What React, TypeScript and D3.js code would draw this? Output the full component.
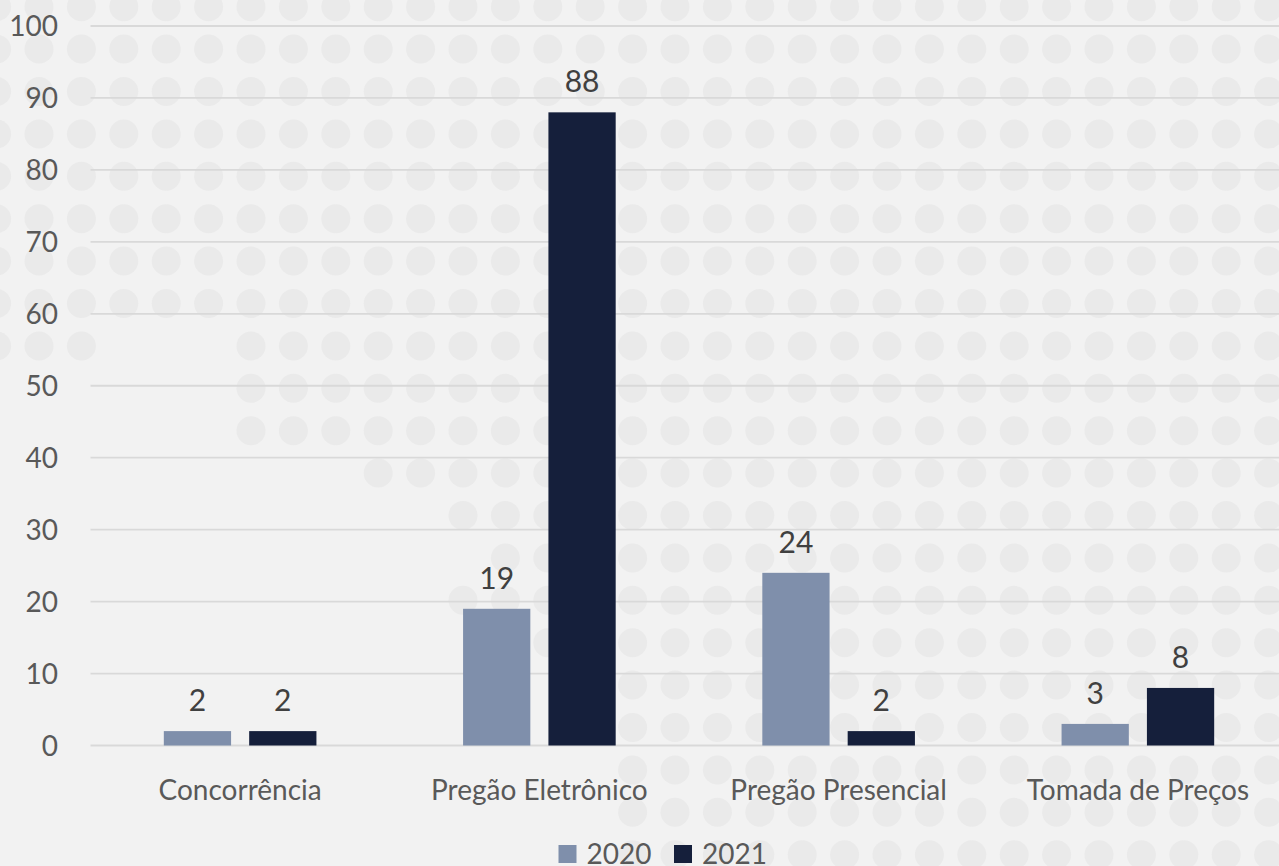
import { useEffect, useRef } from "react";
import * as d3 from "d3";

const categories = ["Concorrência", "Pregão Eletrônico", "Pregão Presencial", "Tomada de Preços"];
const series = ["2020", "2021"];
const values2020 = [2, 19, 24, 3];
const values2021 = [2, 88, 2, 8];
const yTicks = [0, 10, 20, 30, 40, 50, 60, 70, 80, 90, 100];

// first column of the dotted backdrop, per row (row 8 also has a hole)
const dotRowStart = [0, 0, 0, 0, 0, 0, 0, 0, 0, 6, 6, 9, 11, 12, 11, 13, 15, 15, 15, 15, 15];

const colors: Record<string, string> = { "2020": "#7F8FAB", "2021": "#151F3B" };

export default function App() {
  const svgRef = useRef<SVGSVGElement>(null);
  const width = 1279;
  const height = 866;

  useEffect(() => {
    document.body.style.margin = "0";
    const svg = d3.select(svgRef.current);
    svg.selectAll("*").remove();

    const font = "Lato, 'Noto Sans', sans-serif";

    svg.append("rect").attr("width", width).attr("height", height).attr("fill", "#F2F2F2");

    // dotted backdrop
    const dots = svg.append("g").attr("fill", "#EAEAEA");
    const pitch = 42.4;
    dotRowStart.forEach((start, row) => {
      for (let col = start; col <= 30; col++) {
        if (row === 8 && col >= 3 && col <= 5) continue;
        dots.append("circle")
          .attr("cx", -3.4 + col * pitch)
          .attr("cy", 6.7 + row * pitch)
          .attr("r", 14.5);
      }
    });

    const y = d3.scaleLinear().domain([0, 100]).range([745.5, 26]);
    const x0 = d3.scaleBand<string>()
      .domain(categories)
      .range([90.5, 1287.5])
      .paddingInner(0.49)
      .paddingOuter(0.245);
    const x1 = d3.scaleBand<string>()
      .domain(series)
      .range([0, x0.bandwidth()])
      .paddingInner(0.212);

    // gridlines
    svg.append("g")
      .selectAll("line")
      .data(yTicks)
      .join("line")
      .attr("x1", 90.5)
      .attr("x2", width)
      .attr("y1", d => y(d))
      .attr("y2", d => y(d))
      .attr("stroke", "#D9D9D9")
      .attr("stroke-width", 1.8);

    // y tick labels
    svg.append("g")
      .selectAll("text")
      .data(yTicks)
      .join("text")
      .attr("x", 58)
      .attr("y", d => y(d))
      .attr("dy", "0.36em")
      .attr("text-anchor", "end")
      .style("font-family", font)
      .style("font-size", "28px")
      .style("fill", "#595959")
      .text(d => d);

    const rows = categories.map((c, i) => ({ cat: c, vals: { "2020": values2020[i], "2021": values2021[i] } as Record<string, number> }));

    const groups = svg.append("g")
      .selectAll("g")
      .data(rows)
      .join("g")
      .attr("transform", d => `translate(${x0(d.cat)},0)`);

    const items = groups.selectAll("g")
      .data(d => series.map(s => ({ s, v: d.vals[s] })))
      .join("g");

    items.append("rect")
      .attr("x", d => x1(d.s)!)
      .attr("width", x1.bandwidth())
      .attr("y", d => y(d.v))
      .attr("height", d => y(0) - y(d.v))
      .attr("fill", d => colors[d.s]);

    items.append("text")
      .attr("x", d => x1(d.s)! + x1.bandwidth() / 2)
      .attr("y", d => y(d.v) - 20)
      .attr("text-anchor", "middle")
      .style("font-family", font)
      .style("font-size", "30px")
      .style("fill", "#404040")
      .text(d => d.v);

    // category labels
    svg.append("g")
      .selectAll("text")
      .data(categories)
      .join("text")
      .attr("x", d => x0(d)! + x0.bandwidth() / 2)
      .attr("y", 800)
      .attr("text-anchor", "middle")
      .style("font-family", font)
      .style("font-size", "28px")
      .style("fill", "#595959")
      .text(d => d);

    // legend
    const legendX = [558.5, 674];
    const legend = svg.append("g")
      .selectAll("g")
      .data(series)
      .join("g")
      .attr("transform", (_, i) => `translate(${legendX[i]},0)`);
    legend.append("rect")
      .attr("y", 845)
      .attr("width", 18)
      .attr("height", 18)
      .attr("fill", d => colors[d]);
    legend.append("text")
      .attr("x", 28)
      .attr("y", 864)
      .style("font-family", font)
      .style("font-size", "28px")
      .style("fill", "#595959")
      .text(d => d);
  }, []);

  return (
    <svg
      ref={svgRef}
      width={width}
      height={height}
      style={{ position: "absolute", left: 0, top: 0, display: "block", overflow: "hidden" }}
    />
  );
}
